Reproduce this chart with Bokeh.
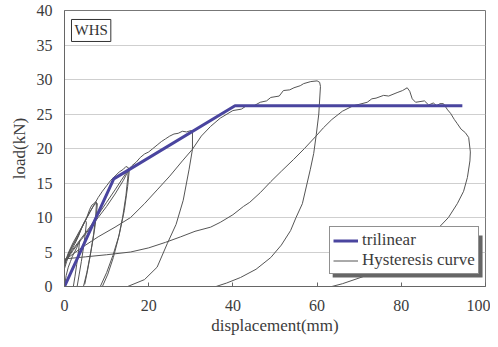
from bokeh.plotting import figure
from bokeh.models import Legend, LegendItem, Label, FixedTicker
from bokeh.embed import file_html
from bokeh.resources import INLINE

# ---- data ----
trilinear_x = [0, 11.7, 40.5, 94.5]
trilinear_y = [0, 15.6, 26.2, 26.2]

# hysteresis branches (positive side only; each starts where the curve re-enters at x=0)
h1_x = [0, 0.4, 0.9, 1.4, 1.9, 2.4, 2.9, 3.3, 3.6, 3.3, 2.9, 2.5, 2.1]
h1_y = [0, 1.6, 2.8, 3.6, 4.4, 5.0, 5.6, 6.2, 6.6, 5.0, 3.2, 1.5, 0]
h2_x = [0, 0.5, 1.0, 1.6, 2.2, 2.8, 3.4, 4.0, 4.6, 5.0, 5.2, 4.9, 4.5, 4.0, 3.5, 3.0]
h2_y = [2.6, 3.6, 4.4, 5.2, 5.9, 6.6, 7.4, 8.4, 9.2, 9.6, 9.2, 7.5, 5.6, 3.6, 1.8, 0]
h3_x = [0, 0.6, 1.2, 1.8, 2.4, 3.0, 3.6, 4.2, 4.8, 5.4, 6.0, 6.5, 7.0, 7.4, 7.8, 7.6, 7.2, 6.6, 6.0, 5.3, 4.5]
h3_y = [3.0, 4.2, 5.0, 5.8, 6.4, 7.0, 7.8, 8.6, 9.4, 10.2, 11.2, 11.8, 12.0, 12.3, 12.0, 10.5, 8.5, 6.2, 4.2, 2.0, 0]
h4_x = [0, 1, 2, 3, 4, 5, 6, 7, 7.6, 7.4, 6.9, 6.2, 5.5, 4.8]
h4_y = [3.2, 4.8, 6.0, 7.2, 8.4, 9.6, 10.8, 11.8, 12.1, 10.2, 7.5, 4.8, 2.4, 0.3]
h5_x = [0, 1, 2, 3, 4, 5, 6, 7, 8, 9, 10, 11, 12, 13, 14, 14.6, 15.2, 15.0, 14.6, 13.8, 12.8, 11.6, 10.3, 9.0]
h5_y = [3.4, 5.0, 6.3, 7.4, 8.5, 9.6, 10.7, 11.8, 12.9, 13.8, 14.6, 15.4, 16.0, 16.6, 17.0, 17.4, 17.2, 15.6, 13.2, 10.0, 7.0, 4.2, 1.8, 0]
h6_x = [0, 2, 4, 6, 8, 10, 12, 14, 15, 15.4, 15.0, 14.2, 13.0, 11.5, 10.0, 8.5]
h6_y = [3.5, 5.2, 6.8, 8.4, 10.0, 11.6, 13.4, 15.4, 16.6, 16.9, 14.5, 11.0, 7.5, 4.5, 2.0, 0]
h7_x = [0, 2, 4, 6, 8, 10, 12, 13.5, 15, 16, 17, 18, 19, 20, 21, 22, 23, 24, 25, 26, 27, 28, 29, 30, 30.4,
        30.4, 29.6, 28.2, 26.5, 24.4, 22, 19, 15]
h7_y = [3.6, 5.4, 7.0, 8.6, 10.4, 12.2, 14.0, 15.4, 16.8, 17.5, 18.0, 18.7, 19.2, 19.5, 20.0, 20.5, 21.0, 21.4,
        21.8, 22.1, 22.2, 22.5, 22.4, 22.6, 22.5, 19.9, 17.0, 12.5, 9.0, 6.2, 2.8, 1.0, 0]
h8_x = [0, 4, 8, 12, 15.7, 19, 22, 25, 28, 30.4, 32.5, 34.7, 37, 40, 42, 43, 45, 46.5, 48, 49, 51, 52, 53.5,
        54.5, 56, 56.8, 58.5, 60, 60.6, 60.8, 60.4, 59.8, 59.2, 58.4, 56.5, 55, 53.7, 51.5, 49, 45.5, 41.8, 38.5, 36]
h8_y = [3.8, 5.6, 7.2, 8.6, 10.0, 12.0, 14.0, 16.0, 18.2, 19.9, 21.8, 23.2, 24.4, 25.5, 25.7, 26.1, 26.2, 26.7,
        26.9, 27.4, 27.6, 28.4, 28.5, 28.8, 29.1, 29.4, 29.7, 29.8, 29.6, 29.0, 25.0, 22.0, 19.3, 17.0, 12.0, 10.0,
        8.1, 6.0, 4.2, 2.5, 1.3, 0.5, 0]
h9_x = [0, 5, 10, 15.7, 20, 24, 27.6, 31, 34.7, 37, 40, 42.5, 44, 46.5, 49, 51.5, 54.4, 57, 59.6, 61.5, 63.5,
        66, 68.6, 70, 71.9, 73, 74, 75.8, 77, 79, 80.3, 81.4, 82, 82.6, 83.4, 85.5, 86.5, 87.6, 88.4, 89.2, 90,
        91, 91.7, 92.6, 93.3, 94.2, 95.2, 96, 96.4, 96.3, 95.7, 94.8, 93.3, 91.2, 87.6, 83, 77, 70.8, 66, 63.5]
h9_y = [4.0, 4.3, 4.6, 5.0, 5.6, 6.4, 7.2, 8.0, 8.6, 9.3, 10.4, 11.6, 12.2, 13.6, 15.2, 16.7, 18.4, 20.0, 21.7,
        23.0, 24.2, 25.4, 26.2, 26.4, 26.7, 27.2, 27.3, 27.7, 27.6, 28.1, 28.4, 28.8, 28.3, 27.2, 26.7, 26.9, 26.3,
        26.6, 26.2, 26.5, 26.5, 25.6, 25.1, 24.2, 23.6, 22.8, 22.3, 21.6, 19.5, 18.2, 15.8, 13.8, 12.0, 10.0, 7.7,
        5.0, 2.8, 1.4, 0.4, 0]

x_ticks = [0, 20, 40, 60, 80, 100]
y_ticks = [0, 5, 10, 15, 20, 25, 30, 35, 40]

hyst_xs = [h1_x, h2_x, h3_x, h4_x, h5_x, h6_x, h7_x, h8_x, h9_x]
hyst_ys = [h1_y, h2_y, h3_y, h4_y, h5_y, h6_y, h7_y, h8_y, h9_y]

SERIF = "Liberation Serif"
TXT = "#3c3c3c"

p = figure(width=490, height=339,
           x_range=(0, 100), y_range=(0, 40),
           output_backend="svg", toolbar_location=None,
           min_border_left=64, min_border_right=5, min_border_top=10, min_border_bottom=53)
p.background_fill_color = "white"
p.border_fill_color = "white"
p.outline_line_color = "#777777"
p.outline_line_width = 1

p.xgrid.visible = False
p.ygrid.grid_line_color = "#cfcfcf"
p.ygrid.ticker = FixedTicker(ticks=y_ticks)

p.xaxis.ticker = FixedTicker(ticks=x_ticks)
p.yaxis.ticker = FixedTicker(ticks=y_ticks)
for ax in (p.xaxis, p.yaxis):
    ax.axis_line_color = "#666666"
    ax.major_label_text_font = SERIF
    ax.major_label_text_font_size = "16px"
    ax.major_label_text_color = TXT
    ax.axis_label_text_font = SERIF
    ax.axis_label_text_font_size = "17px"
    ax.axis_label_text_font_style = "normal"
    ax.axis_label_text_color = TXT
    ax.minor_tick_line_color = None
p.xaxis.major_tick_in = 4
p.xaxis.major_tick_out = 0
p.xaxis.major_tick_line_color = "#666666"
p.yaxis.major_tick_in = 0
p.yaxis.major_tick_out = 0
p.xaxis.major_label_standoff = 13
p.yaxis.major_label_standoff = 12
p.xaxis.axis_label = "displacement(mm)"
p.yaxis.axis_label = "load(kN)"
p.xaxis.axis_label_standoff = 2
p.yaxis.axis_label_standoff = 5

hyst = p.multi_line(xs=hyst_xs, ys=hyst_ys, line_color="#555555", line_width=1)
tri = p.line(trilinear_x, trilinear_y, line_color="#4a459f", line_width=3)

# legend shadow
p.quad(left=[63.7], right=[99.3], bottom=[1.3], top=[7.4], fill_color="#666666", line_color=None)

legend = Legend(items=[LegendItem(label="trilinear", renderers=[tri]),
                       LegendItem(label="Hysteresis curve", renderers=[hyst])],
                location=(265, 12), orientation="vertical",
                label_text_font=SERIF, label_text_font_size="17px", label_text_color=TXT,
                glyph_width=25, glyph_height=19, label_height=19, label_standoff=4,
                padding=3, spacing=0, margin=0,
                border_line_color="#222222", border_line_width=1,
                background_fill_color="white", background_fill_alpha=1.0)
p.add_layout(legend)

# WHS label with shadow
p.add_layout(Label(x=1.66 + 0.71, y=38.7 - 0.43, text="WHS", text_font=SERIF, text_font_size="15px",
                   text_alpha=0, text_baseline="top", padding=3,
                   background_fill_color="#666666", border_line_color=None))
p.add_layout(Label(x=1.66, y=38.7, text="WHS", text_font=SERIF, text_font_size="15px",
                   text_color="#333333", text_baseline="top", padding=3,
                   background_fill_color="white", border_line_color="#333333"))

open("out.html", "w").write(file_html(p, INLINE))
